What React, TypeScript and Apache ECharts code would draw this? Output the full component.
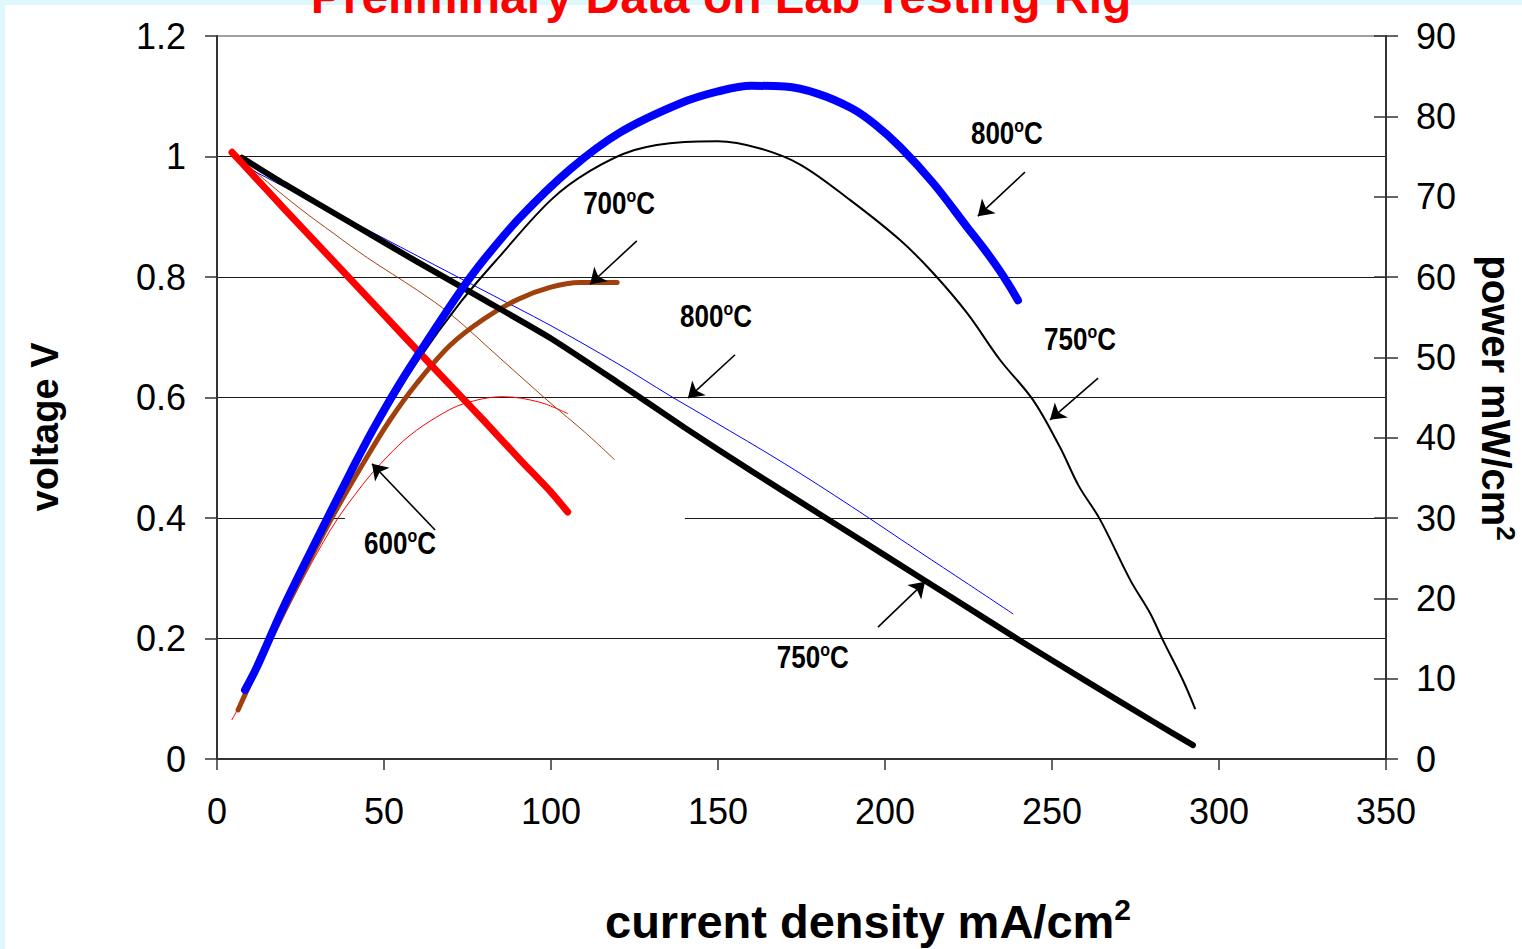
import React, { useEffect, useRef } from "react";
import * as echarts from "echarts";

// ---- data (x: current density mA/cm2) ----
// voltage curves (left axis, V)
const v600: [number, number][] = [[4.5,1.007],[10,0.974],[20,0.914],[30,0.855],[40,0.796],[50,0.737],[60,0.678],[72.8,0.603],[80,0.561],[90.7,0.497],[100,0.443],[105,0.41]];
const v700: [number, number][] = [[5.4,1.005],[15,0.958],[25,0.913],[35,0.872],[45,0.832],[60,0.778],[70,0.738],[85,0.664],[100,0.59],[110,0.543],[119,0.497]];
const v800: [number, number][] = [[9.3,0.981],[20,0.95],[40,0.893],[60,0.835],[80,0.777],[99.7,0.72],[120,0.656],[135.6,0.603],[147.6,0.564],[170,0.49],[190,0.419],[210,0.345],[225,0.29],[238.3,0.241]];
const v750: [number, number][] = [[7.5,0.998],[20,0.955],[40,0.89],[60,0.825],[80,0.762],[100,0.698],[120,0.625],[140,0.55],[160,0.478],[180,0.408],[200,0.338],[220,0.268],[240,0.198],[260,0.13],[280,0.063],[292.2,0.023]];
// power curves (right axis, mW/cm2)
const p600: [number, number][] = [[4.5,4.9],[10,9.2],[20,17.8],[33.8,28.4],[43.7,34.2],[50.9,37.6],[57.8,40.3],[65.9,42.6],[73.7,44.2],[85.6,45.1],[96.7,44.4],[105,43]];
const p700: [number, number][] = [[6.3,6.1],[10,9.5],[15,14],[25,22.5],[35,30.5],[44.9,37.6],[51.8,42.2],[59.9,46.8],[69.8,51.5],[80,54.8],[90,57.2],[99.7,58.7],[108.7,59.3],[119.8,59.3]];
const p750: [number, number][] = [[7.5,7.5],[20,19],[30,27.7],[40,35.6],[50,42.8],[60,49.5],[72.8,56.8],[84.7,62.6],[100,69.6],[111.7,73.2],[125,75.8],[140,76.8],[150,76.9],[162.6,76],[174.6,74],[189.5,69.6],[204.5,64.6],[214.4,60.5],[224.6,55.5],[234.4,49.7],[244.3,44.7],[252.4,38.8],[258,34],[264.4,29.8],[273.4,22.3],[279.3,18.2],[283.2,14.8],[289.2,9.8],[292.8,6.3]];
const p800: [number, number][] = [[8.4,8.6],[12,11.5],[20,19],[30.8,28.1],[40,35.7],[46.7,41],[54.8,46.8],[63.8,52.6],[72.8,58.2],[80,62.2],[90.7,67.4],[105.7,73.4],[120.7,78],[138.6,81.6],[150,83.1],[160,83.8],[170,83.7],[180,82.8],[190,81],[197,79],[204.5,76.2],[214.4,71.7],[224.6,66.2],[229.3,63.7],[234,61],[237.4,58.8],[239.8,57.1]];

// temperature annotations, positioned in data units (x, voltage)
const tempLabels: { t: string; x: number; v: number }[] = [
  { t: "800", x: 236.5, v: 1.039 },
  { t: "700", x: 120.4, v: 0.923 },
  { t: "800", x: 149.4, v: 0.735 },
  { t: "750", x: 258.4, v: 0.697 },
  { t: "600", x: 54.8, v: 0.358 },
  { t: "750", x: 178.4, v: 0.169 },
];
const hiddenLabel = { t: "650", x: 84.7, v: 0.258 };
// arrows: [x1, v1, x2, v2] (tail -> head)
const arrows: [number, number, number, number][] = [
  [241.9, 0.974, 227.8, 0.901],
  [125.7, 0.86, 111.7, 0.788],
  [155.1, 0.671, 141, 0.599],
  [263.8, 0.632, 249.4, 0.563],
  [65.3, 0.38, 46.4, 0.49],
  [197.9, 0.219, 212, 0.294],
];
// white patch covering part of the plot (x1, v1, x2, v2)
const maskBox = [38.3, 0.408, 140.1, 0.236];

const FONT = "Liberation Sans";

export default function App() {
  const ref = useRef<HTMLDivElement>(null);
  useEffect(() => {
    document.body.style.margin = "0";
    const chart = echarts.init(ref.current!, null, { renderer: "svg" });
    const lineS = (name: string, data: any, yi: number, color: string, width: number, z: number, smooth = 0.35) => ({
      name, type: "line", data, yAxisIndex: yi, showSymbol: false, smooth, z,
      lineStyle: { color, width, cap: "round", join: "round" }, itemStyle: { color },
      emphasis: { disabled: true },
    });
    chart.setOption({
      animation: false,
      backgroundColor: "transparent",
      grid: { left: 217, top: 36, width: 1169, height: 723, show: true, borderColor: "#a0a0a0", borderWidth: 2, backgroundColor: "transparent" },
      xAxis: {
        type: "value", min: 0, max: 350, interval: 50,
        axisLine: { lineStyle: { color: "#333", width: 2 } },
        axisTick: { length: 11, lineStyle: { color: "#333", width: 1.5 } },
        axisLabel: { fontSize: 36, fontFamily: FONT, color: "#000", margin: 34 },
        splitLine: { show: false },
      },
      yAxis: [
        {
          type: "value", min: 0, max: 1.2, interval: 0.2, position: "left",
          axisLine: { show: true, lineStyle: { color: "#333", width: 2 } },
          axisTick: { show: true, length: 12, lineStyle: { color: "#333", width: 1.5 } },
          axisLabel: { fontSize: 36, fontFamily: FONT, color: "#000", margin: 31 },
          splitLine: { show: true, showMinLine: false, showMaxLine: false, lineStyle: { color: "#1a1a1a", width: 1.2 } },
        },
        {
          type: "value", min: 0, max: 90, interval: 10, position: "right",
          axisLine: { show: true, lineStyle: { color: "#333", width: 2 } },
          axisTick: { show: true, length: 12, lineStyle: { color: "#333", width: 1.5 } },
          axisLabel: { fontSize: 36, fontFamily: FONT, color: "#000", margin: 30 },
          splitLine: { show: false },
        },
        {
          type: "value", min: 0, max: 90, interval: 10, position: "right",
          axisLine: { show: false },
          axisTick: { show: true, inside: true, length: 12, lineStyle: { color: "#333", width: 1.5 } },
          axisLabel: { show: false },
          splitLine: { show: false },
        },
      ],
      series: [
        lineS("600°C power", p600, 1, "#ff0000", 1, 3),
        lineS("700°C voltage", v700, 0, "#a0410d", 1, 3),
        lineS("800°C voltage", v800, 0, "#0000ff", 1, 3),
        lineS("750°C power", p750, 1, "#000000", 2, 4),
        lineS("700°C power", p700, 1, "#a0410d", 5, 5),
        lineS("750°C voltage", v750, 0, "#000000", 6, 5, 0.2),
        lineS("600°C voltage", v600, 0, "#ff0000", 7, 6, 0.2),
        lineS("800°C power", p800, 1, "#0000ff", 8, 7),
        {
          name: "arrows", type: "lines", coordinateSystem: "cartesian2d", xAxisIndex: 0, yAxisIndex: 0,
          symbol: ["none", "arrow"], symbolSize: 15, z: 10, silent: true,
          lineStyle: { color: "#000", width: 1.6, opacity: 1, curveness: 0 },
          data: arrows.map((a) => ({ coords: [[a[0], a[1]], [a[2], a[3]]] })),
        },
      ],
    });

    const toPx = (x: number, v: number) => chart.convertToPixel({ xAxisIndex: 0, yAxisIndex: 0 } as any, [x, v]) as number[];
    const tempText = (t: string, x: number, v: number, z: number) => {
      const p = toPx(x, v);
      return {
        type: "text", x: p[0], y: p[1], scaleX: 0.84, z, silent: true,
        style: {
          text: `{a|${t}}{s|o}{a|C}`,
          rich: {
            a: { fontSize: 31, fontWeight: "bold", fontFamily: FONT, fill: "#000", lineHeight: 34 },
            s: { fontSize: 19, fontWeight: "bold", fontFamily: FONT, fill: "#000", verticalAlign: "top", lineHeight: 22 },
          },
          align: "center", verticalAlign: "middle",
        },
      };
    };
    const m1 = toPx(maskBox[0], maskBox[1]);
    const m2 = toPx(maskBox[2], maskBox[3]);

    chart.setOption({
      graphic: [
        { type: "rect", z: -100, silent: true, shape: { x: 5, y: 5, width: 1517, height: 944 }, style: { fill: "#ffffff" } },
        {
          type: "text", x: 721, y: -4, z: 20, silent: true,
          style: { text: "Preliminary Data on Lab Testing Rig", fontSize: 48, fontWeight: "bold", fontFamily: FONT, fill: "#ff0000", align: "center", verticalAlign: "middle" },
        },
        tempText(hiddenLabel.t, hiddenLabel.x, hiddenLabel.v, 0.5),
        { type: "rect", z: 1, silent: true, shape: { x: m1[0], y: m1[1], width: m2[0] - m1[0], height: m2[1] - m1[1] }, style: { fill: "#ffffff" } },
        ...tempLabels.map((l) => tempText(l.t, l.x, l.v, 20)),
        {
          type: "text", x: 45, y: 427, rotation: Math.PI / 2, z: 20, silent: true,
          style: { text: "voltage V", fontSize: 38, fontWeight: "bold", fontFamily: FONT, fill: "#000", align: "center", verticalAlign: "middle" },
        },
        {
          type: "text", x: 1496, y: 398, rotation: -Math.PI / 2, z: 20, silent: true,
          style: {
            text: "{m|power mW/cm}{s|2}",
            rich: {
              m: { fontSize: 40, fontWeight: "bold", fontFamily: FONT, fill: "#000", lineHeight: 46 },
              s: { fontSize: 26, fontWeight: "bold", fontFamily: FONT, fill: "#000", verticalAlign: "top", lineHeight: 28 },
            },
            align: "center", verticalAlign: "middle",
          },
        },
        {
          type: "text", x: 868, y: 921, z: 20, silent: true,
          style: {
            text: "{m|current density mA/cm}{s|2}",
            rich: {
              m: { fontSize: 47, fontWeight: "bold", fontFamily: FONT, fill: "#000", lineHeight: 54 },
              s: { fontSize: 30, fontWeight: "bold", fontFamily: FONT, fill: "#000", verticalAlign: "top", lineHeight: 32 },
            },
            align: "center", verticalAlign: "middle",
          },
        },
      ],
    });
    return () => chart.dispose();
  }, []);
  return <div ref={ref} style={{ width: 1522, height: 949, background: "#dff8fb" }} />;
}
